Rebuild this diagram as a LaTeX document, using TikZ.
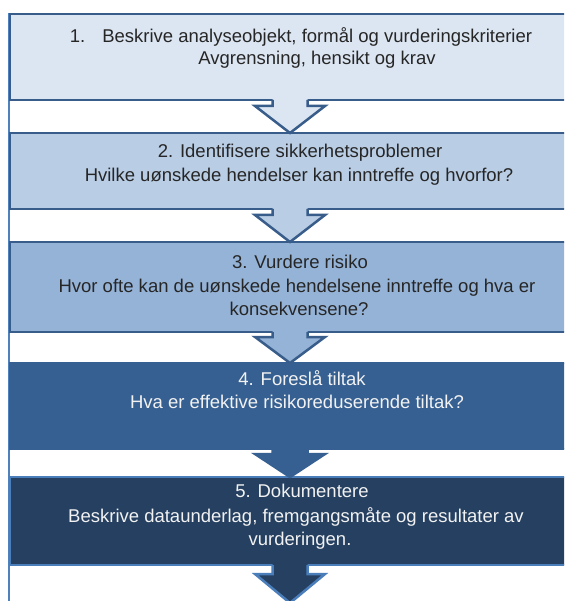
\documentclass[tikz,border=0pt]{standalone}
\usepackage{fontspec}
\setmainfont{Liberation Sans}
\usetikzlibrary{calc}
\definecolor{fillA}{HTML}{DCE6F2}
\definecolor{fillB}{HTML}{B9CDE5}
\definecolor{fillC}{HTML}{95B3D7}
\definecolor{fillD}{HTML}{376092}
\definecolor{fillE}{HTML}{254061}
\definecolor{edgeL}{HTML}{385D8A}
\definecolor{edgeD}{HTML}{4A7EBB}
\definecolor{sideline}{HTML}{4F81BD}
\definecolor{darktext}{HTML}{262626}
\definecolor{lighttext}{HTML}{F2F2F2}
\definecolor{shadowc}{HTML}{C8CDD4}
\newcommand{\flowarrow}[5]{%
  \fill[#1] ($(#3)+(-17.5,-2)$) -- ($(#4)+(-17.5,-#5)$) -- ($(#4)+(-35,-#5)$) -- (#4)
    -- ($(#4)+(35,-#5)$) -- ($(#4)+(17.5,-#5)$) -- ($(#3)+(17.5,-2)$) -- cycle;
  \draw[#2, line width=2.5pt, line join=miter] ($(#3)+(-17.5,0)$) -- ($(#4)+(-17.5,-#5)$)
    -- ($(#4)+(-35,-#5)$) -- (#4) -- ($(#4)+(35,-#5)$) -- ($(#4)+(17.5,-#5)$) -- ($(#3)+(17.5,0)$);
}
\begin{document}
\begin{tikzpicture}[x=1pt,y=-1pt,
  stepbox/.style={line width=2.5pt, anchor=north west, minimum width=700pt,
    inner sep=0pt, outer sep=0pt},
  txt/.style={anchor=base, inner sep=0pt, font=\fontsize{18.5}{22}\selectfont},
  dtxt/.style={txt, text=darktext},
  ltxt/.style={txt, text=lighttext}]
\useasboundingbox (0,0) rectangle (564,601);
\clip (0,0) rectangle (564,601);
\fill[white] (0,0) rectangle (564,601);
\draw[sideline, line width=2pt] (9,13) -- (9,601);
% boxes
\node[stepbox, draw=edgeL, fill=fillA, minimum height=86pt] (b1) at (10,14) {};
\node[stepbox, draw=edgeL, fill=fillB, minimum height=76pt] (b2) at (10,133) {};
\node[stepbox, draw=edgeL, fill=fillC, minimum height=90pt] (b3) at (10,242) {};
\node[stepbox, draw=fillD, fill=fillD, minimum height=86pt] (b4) at (10,363) {};
\node[stepbox, draw=edgeD, fill=fillE, minimum height=88pt] (b5) at (10,477) {};
% arrows
\coordinate (ax) at (290,0);
\coordinate (a1t) at (b1.south -| ax);
\coordinate (a1h) at (b2.north -| ax);
\coordinate (a2t) at (b2.south -| ax);
\coordinate (a2h) at (b3.north -| ax);
\coordinate (a3t) at (b3.south -| ax);
\coordinate (a3h) at (b4.north -| ax);
\coordinate (a4t) at (b4.south -| ax);
\coordinate (a4h) at (b5.north -| ax);
\coordinate (a5t) at (b5.south -| ax);
\coordinate (a5h) at (290,603);
\flowarrow{fillA}{edgeL}{a1t}{a1h}{27}
\flowarrow{fillB}{edgeL}{a2t}{a2h}{27}
\flowarrow{fillC}{edgeL}{a3t}{a3h}{26}
\flowarrow{fillD}{fillD}{a4t}{a4h}{23}
\flowarrow{fillE}{edgeD}{a5t}{a5h}{29}
% texts
\node[dtxt] (t1a) at (301,43) {1.\hspace{17pt}Beskrive analyseobjekt, formål og vurderingskriterier};
\node[dtxt] (t1b) at (317,65) {Avgrensning, hensikt og krav};
\node[dtxt] (t2a) at (300,158) {2. Identifisere sikkerhetsproblemer};
\node[dtxt] (t2b) at (299,182) {Hvilke uønskede hendelser kan inntreffe og hvorfor?};
\node[dtxt] (t3a) at (300,268) {3. Vurdere risiko};
\node[dtxt] (t3b) at (297,292) {Hvor ofte kan de uønskede hendelsene inntreffe og hva er};
\node[dtxt] (t3c) at (299,315) {konsekvensene?};
\node[ltxt] (t4a) at (302,385) {4. Foreslå tiltak};
\node[ltxt] (t4b) at (297,408) {Hva er effektive risikoreduserende tiltak?};
\node[ltxt] (t5a) at (302,497) {5. Dokumentere};
\node[ltxt] (t5b) at (296,522) {Beskrive dataunderlag, fremgangsmåte og resultater av};
\node[ltxt] (t5c) at (300,545) {vurderingen.};
\end{tikzpicture}
\end{document}
